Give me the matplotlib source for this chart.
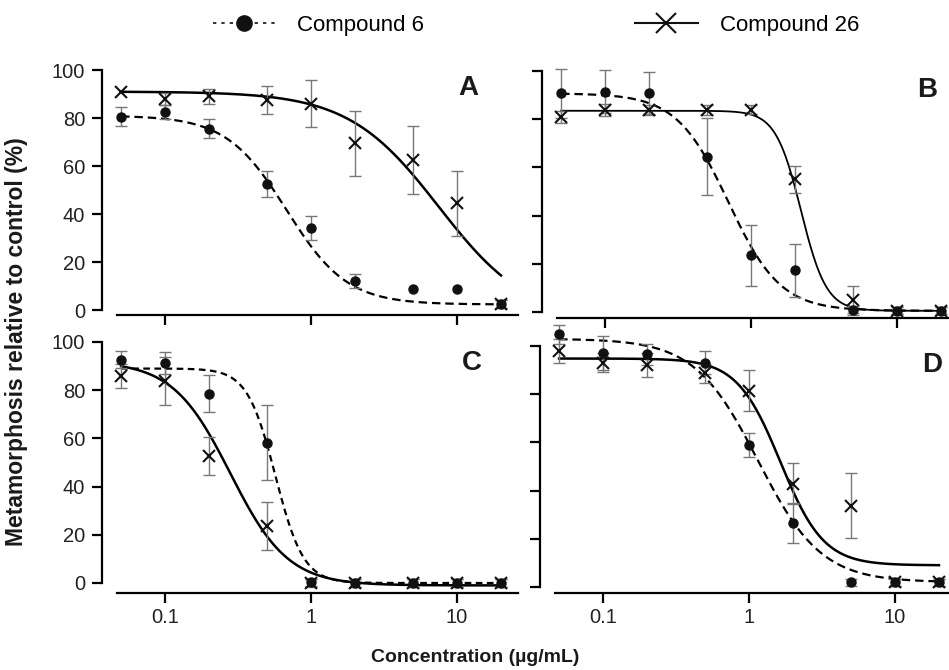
import numpy as np
import matplotlib
matplotlib.use("Agg")
import matplotlib.pyplot as plt
from matplotlib.lines import Line2D
from matplotlib.ticker import FixedLocator, NullLocator

plt.rcParams['font.family'] = ['Liberation Sans', 'DejaVu Sans']

# concentrations (ug/mL)
conc = [0.05, 0.1, 0.2, 0.5, 1, 2, 5, 10, 20]

# panel A
a_c6 = [80.5, 82.5, 75.5, 52.5, 34, 12, 8.6, 8.6, 2.5]
a_c6_err = [4, 3, 4, 5.3, 5, 3, 0, 0, 1.5]
a_c26 = [91, 88, 89, 87.5, 86, 69.5, 62.5, 44.5, 2.5]
a_c26_err = [0, 2.5, 3, 6, 9.7, 13.5, 14, 13.5, 1.5]

# panel B
b_c6 = [90.7, 91.4, 90.7, 64.4, 23.5, 17.3, 1, 0.5, 0.5]
b_c6_err = [10, 9, 8.7, 16, 12.7, 11, 1.5, 1.5, 1.5]
b_c26 = [81, 84, 83.8, 83.8, 84, 55, 4.8, 0.5, 0.5]
b_c26_err = [2.5, 2.5, 2, 2, 2, 5.5, 6, 1.5, 1.5]

# panel C
c_c6 = [92.7, 91.3, 78.6, 58.2, 0.3, 0, 0, 0, 0]
c_c6_err = [3.6, 4.5, 7.6, 15.6, 1.5, 1.5, 1.5, 1.5, 1.5]
c_c26 = [85.8, 83.9, 52.7, 23.7, 0, 0, 0, 0, 0]
c_c26_err = [5, 10, 8, 10, 1.5, 1.5, 1.5, 1.5, 1.5]

# panel D
d_c6 = [104.8, 97, 96.6, 93.1, 58.9, 26.6, 2, 2, 2]
d_c6_err = [4, 7, 4.4, 4.8, 4.8, 8.3, 1.5, 1.5, 1.5]
d_c26 = [97.9, 93.1, 92.1, 88.6, 81.4, 42.8, 33.8, 2, 2]
d_c26_err = [5, 4, 5, 4, 8.5, 8.5, 13.4, 1.5, 1.5]

# fitted dose-response parameters: (top, bottom, ic50, hill)
fit_c6 = {'A': (81, 2.3, 0.68, 2.1), 'B': (90.7, 0.5, 0.70, 2.44),
          'C': (89, 0, 0.57, 4.5), 'D': (103, 2, 1.15, 2.0)}
fit_c26 = {'A': (91, -5, 7.5, 1.4), 'B': (83.5, 0.5, 2.2, 5.0),
           'C': (92, -1, 0.28, 2.2), 'D': (94.8, 9, 1.64, 2.93)}

panels = {
    'A': (a_c6, a_c6_err, a_c26, a_c26_err),
    'B': (b_c6, b_c6_err, b_c26, b_c26_err),
    'C': (c_c6, c_c6_err, c_c26, c_c26_err),
    'D': (d_c6, d_c6_err, d_c26, d_c26_err),
}

# layout in pixels: left spine x, y(100), y(0), x-axis line y
W, H = 949, 670
layout = {'A': (102, 70, 310, 315), 'B': (542, 71, 312, 318),
          'C': (102, 342, 583, 593), 'D': (540, 346, 587, 593)}
letter_pos = {'A': (468, 88), 'B': (927, 90), 'C': (472, 363), 'D': (932, 365)}
X_LO, X_HI = 0.037, 26
DECADE = 146


def logistic(x, top, bottom, ic50, hill):
    return bottom + (top - bottom) / (1 + (x / ic50) ** hill)


fig = plt.figure(figsize=(W / 100, H / 100), dpi=100)
xs = np.logspace(np.log10(0.05), np.log10(20), 400)
c = np.array(conc)

for name, (m6, e6, m26, e26) in panels.items():
    lx, y100, y0, yax = layout[name]
    scale = (y0 - y100) / 100
    ybot = -(yax - y0) / scale
    top_px = y100 - 14
    ytop = 100 + 14 / scale
    width = DECADE * np.log10(X_HI / X_LO)
    ax = fig.add_axes([lx / W, 1 - yax / H, width / W, (yax - top_px) / H])
    ax.set_xscale('log')
    ax.set_xlim(X_LO, X_HI)
    ax.set_ylim(ybot, ytop)

    dash = (0, (3, 2)) if name == 'C' else (0, (3.8, 2.2))
    ax.plot(xs, logistic(xs, *fit_c6[name]), color='black', lw=1.6,
            ls=dash, clip_on=False, zorder=2)
    ax.plot(xs, logistic(xs, *fit_c26[name]), color='black',
            lw=1.3 if name == 'B' else 1.8, clip_on=False, zorder=2)

    for m, e in ((m6, e6), (m26, e26)):
        m = np.array(m)
        e = np.array(e)
        k = e > 0
        eb = ax.errorbar(c[k], m[k], yerr=e[k], fmt='none', ecolor='#777777',
                         elinewidth=1.0, capsize=4.5, capthick=1.0, zorder=3)
        for art in eb.get_children():
            art.set_clip_on(False)
    ax.plot(c, m6, 'o', color='#111111', ms=6.5, clip_on=False, zorder=4)
    ax.plot(c, m26, 'x', color='#111111', ms=9, mew=1.5, clip_on=False, zorder=4)

    for s in ('top', 'right'):
        ax.spines[s].set_visible(False)
    ax.spines['left'].set_bounds(0, 100)
    ax.spines['bottom'].set_bounds(0.047, X_HI)
    for s in ('left', 'bottom'):
        ax.spines[s].set_linewidth(1.6)
    ax.set_yticks([0, 20, 40, 60, 80, 100])
    ax.xaxis.set_major_locator(FixedLocator([0.1, 1, 10]))
    ax.xaxis.set_minor_locator(NullLocator())
    ax.set_xticklabels(['0.1', '1', '10'])
    ax.tick_params(direction='out', length=7, width=1.6, labelsize=14.5,
                   labelcolor='#222222')
    ax.tick_params(axis='y', pad=5)
    ax.tick_params(axis='x', pad=4)
    if name in ('A', 'B'):
        ax.tick_params(axis='x', labelbottom=False)
    if name in ('B', 'D'):
        ax.tick_params(axis='y', labelleft=False)
    ax.patch.set_visible(False)

    px, py = letter_pos[name]
    fig.text(px / W, 1 - py / H, name, fontsize=20, fontweight='bold',
             ha='center', va='center', color='#1a1a1a')

fig.text(17 / W, 1 - 342 / H, 'Metamorphosis relative to control (%)',
         rotation=90, fontsize=16.5, fontweight='bold', ha='center', va='center',
         color='#1a1a1a')
fig.text(475 / W, 1 - 657 / H, 'Concentration (µg/mL)', fontsize=14,
         fontweight='bold', ha='center', va='center', color='#1a1a1a')

h6 = Line2D([], [], color='#111111', lw=1.2, ls=(0, (2, 3)), marker='o', ms=11)
h26 = Line2D([], [], color='#111111', lw=1.5, marker='x', ms=14, mew=1.5)
fig.legend([h6, h26], ['Compound 6', 'Compound 26'], ncol=2, frameon=False,
           fontsize=16, handlelength=2.8, handletextpad=1.0, columnspacing=9.5,
           loc='center', bbox_to_anchor=(536 / W, 1 - 25 / H))

fig.savefig('out.png', dpi=100)
